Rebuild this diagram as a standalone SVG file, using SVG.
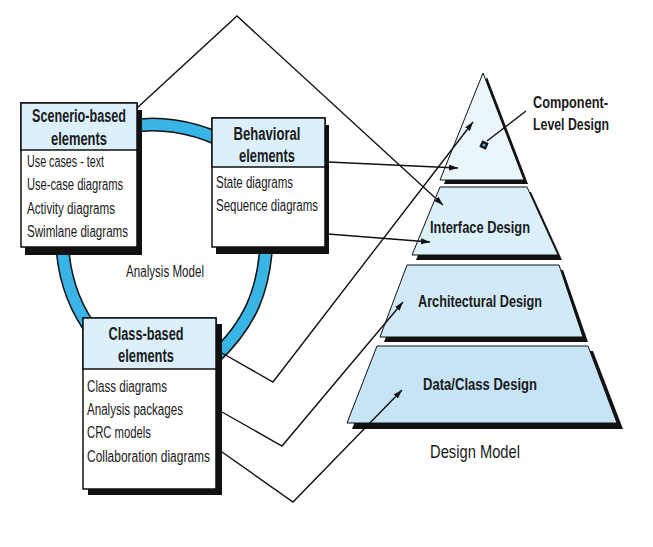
<svg xmlns="http://www.w3.org/2000/svg" width="653" height="547" viewBox="0 0 653 547">
<defs>
<style>
.bg{fill:#ffffff}
.shadow{fill:#111111}
.body{fill:#ffffff;stroke:#111111;stroke-width:1.5}
.head{fill:#dcf0fb;stroke:#111111;stroke-width:1.5}
.ht{font-family:"Liberation Sans",Arial,sans-serif;font-weight:bold;font-size:18px;fill:#1a1a1a;text-anchor:middle}
.bt{font-family:"Liberation Sans",Arial,sans-serif;font-size:16px;fill:#1a1a1a}
.lbl{font-family:"Liberation Sans",Arial,sans-serif;font-size:19px;fill:#1a1a1a}
.pt{font-family:"Liberation Sans",Arial,sans-serif;font-weight:bold;font-size:17px;fill:#1a1a1a}
.ringo{fill:none;stroke:#111111;stroke-width:14}
.ringi{fill:none;stroke:#38b5e6;stroke-width:11}
.lay{stroke:#111111;stroke-width:1}
.conn{fill:none;stroke:#111111;stroke-width:1.4}
</style>
<marker id="arr" markerUnits="userSpaceOnUse" markerWidth="10" markerHeight="6" refX="9" refY="3" orient="auto">
<path d="M0,0 L9,3 L0,6 z" fill="#111111"/>
</marker>
</defs>
<rect class="bg" x="0" y="0" width="653" height="547"/>

<g id="ring">
<path class="ringo" d="M120,128 Q180,115 240,150"/>
<path class="ringo" d="M267,230 C266,290 250,325 212,360"/>
<path class="ringo" d="M62,235 C62,270 72,305 95,335"/>
<path class="ringi" d="M120,128 Q180,115 240,150"/>
<path class="ringi" d="M267,230 C266,290 250,325 212,360"/>
<path class="ringi" d="M62,235 C62,270 72,305 95,335"/>
</g>

<g id="scenario">
<rect class="shadow" x="25" y="110" width="117" height="145"/>
<rect class="body" x="21" y="103" width="116" height="144"/>
<rect class="head" x="21" y="103" width="116" height="47"/>
<text class="ht" x="79" y="122" textLength="94" lengthAdjust="spacingAndGlyphs">Scenerio-based</text>
<text class="ht" x="79" y="145" textLength="56" lengthAdjust="spacingAndGlyphs">elements</text>
<text class="bt" x="27" y="167" textLength="77" lengthAdjust="spacingAndGlyphs">Use cases - text</text>
<text class="bt" x="27" y="190" textLength="96" lengthAdjust="spacingAndGlyphs">Use-case diagrams</text>
<text class="bt" x="27" y="214" textLength="88" lengthAdjust="spacingAndGlyphs">Activity diagrams</text>
<text class="bt" x="27" y="237" textLength="101" lengthAdjust="spacingAndGlyphs">Swimlane diagrams</text>
</g>

<g id="behavioral">
<rect class="shadow" x="216" y="125" width="113" height="129"/>
<rect class="body" x="212" y="118" width="113" height="129"/>
<rect class="head" x="212" y="118" width="113" height="49"/>
<text class="ht" x="267" y="140" textLength="67" lengthAdjust="spacingAndGlyphs">Behavioral</text>
<text class="ht" x="267" y="162" textLength="56" lengthAdjust="spacingAndGlyphs">elements</text>
<text class="bt" x="216" y="188" textLength="77" lengthAdjust="spacingAndGlyphs">State diagrams</text>
<text class="bt" x="216" y="211" textLength="102" lengthAdjust="spacingAndGlyphs">Sequence diagrams</text>
</g>

<g id="classbased">
<rect class="shadow" x="88" y="324" width="134" height="171"/>
<rect class="body" x="83" y="318" width="133" height="171"/>
<rect class="head" x="83" y="318" width="133" height="51"/>
<text class="ht" x="146" y="340" textLength="75" lengthAdjust="spacingAndGlyphs">Class-based</text>
<text class="ht" x="146" y="362" textLength="56" lengthAdjust="spacingAndGlyphs">elements</text>
<text class="bt" x="87" y="392" textLength="80" lengthAdjust="spacingAndGlyphs">Class diagrams</text>
<text class="bt" x="87" y="415" textLength="96" lengthAdjust="spacingAndGlyphs">Analysis packages</text>
<text class="bt" x="87" y="438" textLength="64" lengthAdjust="spacingAndGlyphs">CRC models</text>
<text class="bt" x="87" y="462" textLength="123" lengthAdjust="spacingAndGlyphs">Collaboration diagrams</text>
</g>

<g id="analysis-label">
<text class="bt" x="126" y="277" textLength="78" lengthAdjust="spacingAndGlyphs">Analysis Model</text>
</g>

<g id="component-level">
<polygon class="shadow" points="487,77 528,184 444,184"/>
<polygon points="483,73 524,180 440,180" fill="#eaf5fc" class="lay"/>
</g>
<g id="interface">
<polygon class="shadow" points="444,192 531,192 562,260 416,260"/>
<polygon points="440,187 527,187 558,255 412,255" fill="#dcf0fa" class="lay"/>
<text class="pt" x="430" y="233" textLength="100" lengthAdjust="spacingAndGlyphs">Interface Design</text>
</g>
<g id="architectural">
<polygon class="shadow" points="411,270 563,270 588,342 384,342"/>
<polygon points="407,265 559,265 583,337 380,337" fill="#d2eaf8" class="lay"/>
<text class="pt" x="418" y="307" textLength="124" lengthAdjust="spacingAndGlyphs">Architectural Design</text>
</g>
<g id="dataclass">
<polygon class="shadow" points="382,351 593,351 623,429 352,429"/>
<polygon points="377,346 588,346 617,423 347,423" fill="#c7e4f6" class="lay"/>
<text class="pt" x="423" y="390" textLength="114" lengthAdjust="spacingAndGlyphs">Data/Class Design</text>
</g>

<g id="component-label">
<text class="pt" x="533" y="108" textLength="75" lengthAdjust="spacingAndGlyphs">Component-</text>
<text class="pt" x="533" y="130" textLength="76" lengthAdjust="spacingAndGlyphs">Level Design</text>
</g>

<g id="design-label">
<text class="lbl" x="430" y="458" textLength="90" lengthAdjust="spacingAndGlyphs">Design Model</text>
</g>

<g id="connectors">
<polyline class="conn" points="137,108 237,16 443,205" marker-end="url(#arr)"/>
<line class="conn" x1="328" y1="162" x2="458" y2="168" marker-end="url(#arr)"/>
<line class="conn" x1="328" y1="234" x2="430" y2="242" marker-end="url(#arr)"/>
<polyline class="conn" points="222,353 273,382 473,122" marker-end="url(#arr)"/>
<polyline class="conn" points="222,412 282,446 403,302" marker-end="url(#arr)"/>
<polyline class="conn" points="222,452 293,502 402,390" marker-end="url(#arr)"/>
<line class="conn" x1="526" y1="111" x2="487" y2="141"/>
<rect x="480.5" y="141.5" width="7" height="7" fill="#111111" transform="rotate(25 484 145)"/>
<circle cx="484" cy="145" r="1.6" fill="#3ab6e6"/>
</g>
</svg>
